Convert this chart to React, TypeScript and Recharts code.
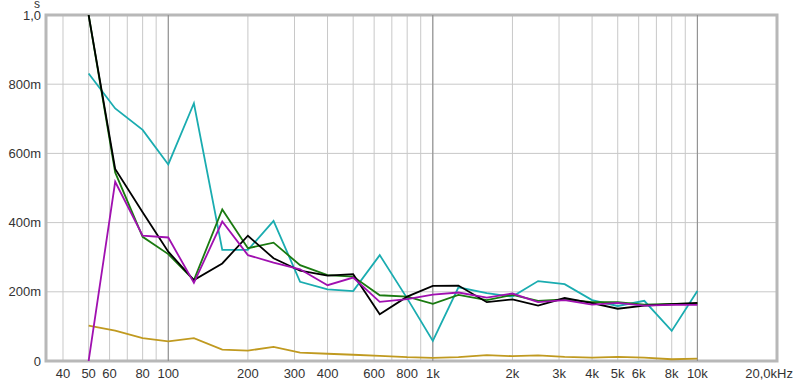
import React from 'react';
import { LineChart, Line, XAxis, YAxis, CartesianGrid, ReferenceLine, ReferenceArea } from 'recharts';

const freqs = [50, 63, 80, 100, 125, 160, 200, 250, 315, 400, 500, 630, 800, 1000, 1250, 1600, 2000, 2500, 3150, 4000, 5000, 6300, 8000, 10000];
const blackSeries = [1.0, 0.555, 0.43, 0.316, 0.234, 0.282, 0.362, 0.297, 0.261, 0.247, 0.251, 0.135, 0.186, 0.217, 0.218, 0.170, 0.178, 0.160, 0.182, 0.167, 0.151, 0.160, 0.164, 0.168];
const greenSeries = [1.0, 0.545, 0.359, 0.309, 0.234, 0.438, 0.326, 0.342, 0.277, 0.248, 0.244, 0.190, 0.186, 0.165, 0.191, 0.176, 0.191, 0.174, 0.178, 0.170, 0.170, 0.163, 0.165, 0.166];
const cyanSeries = [0.831, 0.730, 0.668, 0.568, 0.745, 0.321, 0.321, 0.405, 0.229, 0.207, 0.202, 0.306, 0.181, 0.058, 0.213, 0.196, 0.186, 0.231, 0.222, 0.176, 0.159, 0.174, 0.087, 0.202];
const magentaSeries = [0.0, 0.518, 0.362, 0.357, 0.226, 0.403, 0.306, 0.284, 0.265, 0.219, 0.241, 0.171, 0.179, 0.192, 0.198, 0.183, 0.195, 0.170, 0.176, 0.163, 0.168, 0.160, 0.162, 0.162];
const goldSeries = [0.102, 0.088, 0.066, 0.057, 0.066, 0.033, 0.030, 0.041, 0.024, 0.021, 0.018, 0.015, 0.011, 0.009, 0.011, 0.017, 0.014, 0.016, 0.012, 0.010, 0.012, 0.010, 0.005, 0.007];

const xTicks = [40, 50, 60, 70, 80, 90, 100, 200, 300, 400, 500, 600, 700, 800, 900, 1000, 2000, 3000, 4000, 5000, 6000, 7000, 8000, 9000, 10000, 20000];
const xTickLabels: Record<number, string> = {
  40: '40', 50: '50', 60: '60', 80: '80', 100: '100', 200: '200', 300: '300', 400: '400', 600: '600', 800: '800',
  1000: '1k', 2000: '2k', 3000: '3k', 4000: '4k', 5000: '5k', 6000: '6k', 8000: '8k', 10000: '10k', 20000: '20,0kHz',
};
const yTicks = [0, 0.2, 0.4, 0.6, 0.8, 1.0];
const yTickLabels = ['0', '200m', '400m', '600m', '800m', '1,0'];
const yUnit = 's';
const decades = [100, 1000, 10000];

const data = freqs.map((f, i) => ({
  f,
  black: blackSeries[i],
  green: greenSeries[i],
  cyan: cyanSeries[i],
  magenta: magentaSeries[i],
  gold: goldSeries[i],
}));

const FONT = '"Liberation Sans", Arial, sans-serif';

const XTick = (props: any) => {
  const { x, y, payload } = props;
  const label = xTickLabels[payload.value];
  if (!label) return <g />;
  if (payload.value === 20000) {
    return (
      <text x={x + 16} y={y} dy="0.71em" textAnchor="end" fontSize={13} fontFamily={FONT} fill="#333">{label}</text>
    );
  }
  return (
    <text x={x} y={y} dy="0.71em" textAnchor="middle" fontSize={13} fontFamily={FONT} fill="#333">{label}</text>
  );
};

const YTick = (props: any) => {
  const { x, y, payload } = props;
  const idx = yTicks.indexOf(payload.value);
  const label = idx >= 0 ? yTickLabels[idx] : '';
  return (
    <g>
      <text x={x} y={y} dy="0.355em" textAnchor="end" fontSize={13} fontFamily={FONT} fill="#333">{label}</text>
      {payload.value === 1 ? (
        <text x={x - 1} y={y - 11} dy="0.355em" textAnchor="end" fontSize={12} fontFamily={FONT} fill="#333">{yUnit}</text>
      ) : null}
    </g>
  );
};

export default function App() {
  return (
    <div style={{ position: 'absolute', left: 0, top: 0, width: 800, height: 382, background: '#fff' }}>
      <LineChart width={800} height={382} data={data} margin={{ top: 15, right: 23, left: 0, bottom: 0 }}>
        <CartesianGrid stroke="#c8c8c8" strokeWidth={1} />
        {decades.map((d) => (
          <ReferenceLine key={d} x={d} stroke="#8a8a8a" strokeWidth={1} />
        ))}
        <XAxis
          dataKey="f"
          type="number"
          scale="log"
          domain={[34.5, 20000]}
          allowDataOverflow
          ticks={xTicks}
          interval={0}
          tick={<XTick />}
          tickLine={false}
          axisLine={false}
          height={21}
          tickSize={6}
          tickMargin={2}
        />
        <YAxis
          type="number"
          domain={[0, 1]}
          allowDataOverflow
          ticks={yTicks}
          interval={0}
          tick={<YTick />}
          tickLine={false}
          axisLine={false}
          width={46}
          tickSize={3}
          tickMargin={2}
        />
        <ReferenceArea x1={34.5} x2={20000} y1={0} y2={1} fill="none" stroke="#b8b8b8" strokeWidth={3} ifOverflow="visible" />
        <Line type="linear" dataKey="gold" stroke="#c09a20" strokeWidth={1.8} dot={false} isAnimationActive={false} />
        <Line type="linear" dataKey="cyan" stroke="#1aacb0" strokeWidth={1.8} dot={false} isAnimationActive={false} />
        <Line type="linear" dataKey="green" stroke="#1a7a10" strokeWidth={1.8} dot={false} isAnimationActive={false} />
        <Line type="linear" dataKey="black" stroke="#000000" strokeWidth={1.8} dot={false} isAnimationActive={false} />
        <Line type="linear" dataKey="magenta" stroke="#a010b0" strokeWidth={1.8} dot={false} isAnimationActive={false} />
      </LineChart>
    </div>
  );
}
